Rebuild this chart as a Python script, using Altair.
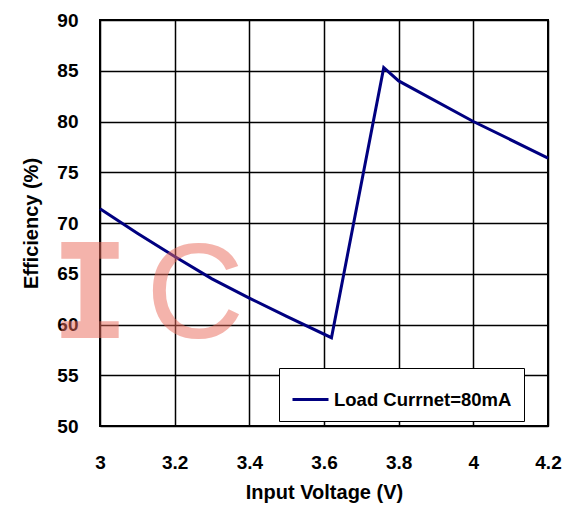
import altair as alt
import pandas as pd

voltage = [3.0, 3.1, 3.2, 3.3, 3.4, 3.5, 3.62, 3.76, 3.8, 4.0, 4.2]
efficiency = [71.4, 69.0, 66.7, 64.5, 62.6, 60.8, 58.7, 85.3, 84.0, 80.0, 76.4]
series_name = "Load Currnet=80mA"
x_ticks = [3.0, 3.2, 3.4, 3.6, 3.8, 4.0, 4.2]
y_ticks = [50, 55, 60, 65, 70, 75, 80, 85, 90]

df = pd.DataFrame({"v": voltage, "e": efficiency, "s": [series_name] * len(voltage)})

FONT = "Liberation Sans"

line = alt.Chart(df).mark_line(strokeWidth=3).encode(
    x=alt.X("v:Q", scale=alt.Scale(domain=[3.0, 4.2], nice=False, zero=False),
            axis=alt.Axis(values=x_ticks, title="Input Voltage (V)", labelFlush=False,
                          format="~g", labelPadding=27, titlePadding=10)),
    y=alt.Y("e:Q", scale=alt.Scale(domain=[50, 90], nice=False, zero=False),
            axis=alt.Axis(values=y_ticks, title="Efficiency (%)", labelFlush=False,
                          labelPadding=22, titlePadding=15)),
    color=alt.Color("s:N", scale=alt.Scale(range=["#000080"]),
                    legend=alt.Legend(title=None, orient="none", legendX=179, legendY=348,
                                      symbolType="stroke", symbolSize=1296, symbolStrokeWidth=3,
                                      labelFont=FONT, labelFontSize=18.5, labelFontWeight="bold",
                                      labelColor="black", labelLimit=400, padding=12, labelOffset=4,
                                      fillColor="white", strokeColor="black")),
)

wm = pd.DataFrame({"t": ["I"]})
wm_i = alt.Chart(wm).mark_text(
    font="DejaVu Sans Mono", fontWeight="bold", fontSize=132, color="#ea6a5a",
    opacity=0.5, align="center", baseline="alphabetic"
).encode(text="t:N", x=alt.value(-10), y=alt.value(318))

wm2 = pd.DataFrame({"t": ["C"]})
wm_c = alt.Chart(wm2).mark_text(
    font=FONT, fontSize=136, color="#ea6a5a",
    opacity=0.5, align="center", baseline="alphabetic"
).encode(text="t:N", x=alt.value(95), y=alt.value(318))

chart = alt.layer(line, wm_i, wm_c).properties(
    width=448, height=406,
    autosize=alt.AutoSizeParams(type="none"),
    padding={"left": 92, "top": 12, "right": 17, "bottom": 80},
).configure_view(
    stroke="black", strokeWidth=2
).configure_axis(
    grid=True, gridColor="black", gridWidth=1.5, gridOpacity=1,
    domain=False, ticks=False,
    labelFont=FONT, labelFontSize=19, labelFontWeight="bold", labelColor="black",
    titleFont=FONT, titleFontSize=20, titleFontWeight="bold", titleColor="black",
)

chart.save("out.html", embed_options={"renderer": "svg", "actions": False})
